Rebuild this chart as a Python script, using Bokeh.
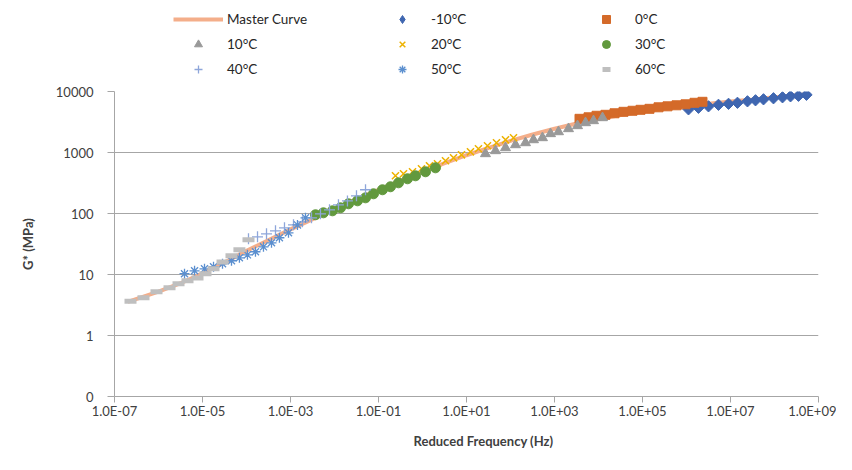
import math
from bokeh.plotting import figure
from bokeh.models import Range1d, FixedTicker, Legend, LegendItem, Label
from bokeh.layouts import column
from bokeh.embed import file_html
from bokeh.resources import INLINE

# ---------------- data ----------------
master_f = [2.0e-7, 1.0e-6, 3.2e-6, 1.0e-5, 3.2e-5, 1.0e-4, 3.2e-4, 1.0e-3, 3.2e-3, 1.0e-2,
            3.2e-2, 0.1, 0.32, 1.0, 3.2, 10, 32, 100, 320, 1.0e3, 3.2e3, 1.0e4, 3.2e4,
            1.0e5, 3.2e5, 1.0e6, 3.2e6, 1.0e7, 3.2e7, 1.0e8, 3.2e8, 6.3e8]
master_g = [3.55, 5.25, 7.2, 10.5, 15.8, 24.5, 36.7, 55, 81, 119, 172, 245, 347, 484, 668,
            902, 1189, 1549, 1972, 2455, 2985, 3548, 4121, 4677, 5248, 5821, 6310, 6839,
            7413, 8035, 8710, 9120]

m10_f = [1.11e6, 1.87e6, 3.16e6, 5.33e6, 9.02e6, 1.44e7, 2.43e7, 3.70e7, 5.62e7, 9.48e7,
         1.52e8, 2.31e8, 3.51e8, 5.33e8]
m10_g = [5105, 5408, 5715, 6053, 6281, 6531, 6902, 7178, 7447, 7745, 8035, 8337, 8511, 8831]

t0_f = [3700, 5930, 9020, 14420, 23120, 36980, 59290, 90150, 144200, 231200, 369800,
        592900, 948400, 1.52e6, 2.31e6]
t0_g = [3565, 3776, 3999, 4150, 4395, 4645, 4831, 5012, 5200, 5508, 5715, 5943, 6166,
        6531, 6776]

t10_f = [27, 45.6, 77, 130, 219, 333, 533, 811, 1233, 2080, 3333, 5070, 7700, 12330]
t10_g = [953, 1067, 1194, 1337, 1442, 1614, 1742, 2028, 2183, 2449, 2742, 3069, 3311, 3707]

t20_f = [0.243, 0.37, 0.593, 0.948, 1.44, 2.19, 3.33, 5.07, 7.7, 12.3, 18.7, 30, 48, 77, 117]
t20_g = [415, 448, 483, 541, 605, 653, 731, 818, 916, 1026, 1151, 1288, 1442, 1614, 1742]

t30_f = [3.7e-3, 5.6e-3, 9.0e-3, 1.37e-2, 2.08e-2, 3.33e-2, 5.07e-2, 7.7e-2, 0.123, 0.187,
         0.285, 0.456, 0.693, 1.17, 1.97]
t30_g = [95.3, 102.6, 110.7, 123.9, 144.2, 161.4, 180.7, 210.4, 244.9, 274.2, 318.4, 370.7,
         415, 483, 561]

t40_f = [1.11e-4, 1.78e-4, 2.85e-4, 4.56e-4, 7.3e-4, 1.17e-3, 1.87e-3, 3.0e-3, 4.8e-3,
         7.7e-3, 1.23e-2, 1.97e-2, 3.16e-2, 5.07e-2]
t40_g = [38.5, 41.5, 46.4, 52, 58.3, 65.3, 73.1, 85, 98.9, 115, 139, 161, 195, 245]

t50_f = [3.9e-6, 6.6e-6, 1.11e-5, 1.78e-5, 2.85e-5, 4.56e-5, 6.9e-5, 1.05e-4, 1.6e-4,
         2.43e-4, 3.7e-4, 5.6e-4, 9.0e-4, 1.44e-3, 2.19e-3]
t50_g = [10.3, 11.5, 12.4, 13.4, 15.0, 16.8, 18.8, 21.0, 23.6, 28.4, 33.1, 40, 48.3, 65, 85]

t60_f = [2.31e-7, 4.56e-7, 9.0e-7, 1.78e-6, 2.85e-6, 4.56e-6, 7.7e-6, 1.17e-5, 1.78e-5,
         2.85e-5, 4.56e-5, 6.9e-5, 1.11e-4]
t60_g = [3.64, 4.15, 5.2, 6.05, 7.05, 7.9, 8.8, 10.3, 12.4, 16.1, 20.3, 25.4, 37]

series_names = ["-10°C", "0°C", "10°C", "20°C", "30°C", "40°C", "50°C", "60°C"]

x_ticks = [1e-7, 1e-5, 1e-3, 1e-1, 1e1, 1e3, 1e5, 1e7, 1e9]
x_tick_labels = ["1.0E-07", "1.0E-05", "1.0E-03", "1.0E-01", "1.0E+01", "1.0E+03",
                 "1.0E+05", "1.0E+07", "1.0E+09"]
y_ticks = [0.1, 1, 10, 100, 1000, 10000]
y_tick_labels = ["0", "1", "10", "100", "1000", "10000"]

# ---------------- styles ----------------
FONT = "Lato"
GRID = "#A6A6A6"
TXT = "#404040"
MASTER = dict(line_color="#F4AE8A", line_width=4)
STYLES = [
    dict(marker="square", angle=math.pi / 4, size=8, fill_color="#3F66B0", line_color="#3F66B0"),
    dict(marker="square", size=9, fill_color="#D46A29", line_color="#D46A29"),
    dict(marker="triangle", size=10, fill_color="#999999", line_color="#999999"),
    dict(marker="x", size=10, line_color="#EDB200", line_width=1.5),
    dict(marker="circle", size=10, fill_color="#62993E", line_color="#62993E"),
    dict(marker="cross", size=11, line_color="#8EA6DA", line_width=1.3),
    dict(marker="asterisk", size=10, line_color="#5B8FCF", line_width=1.3),
    dict(marker="dash", size=12, line_color="#BFBFBF", line_width=5),
]
# legend swatch styles (the legend does not rotate markers, so use a diamond there)
LEGEND_STYLES = [dict(st) for st in STYLES]
LEGEND_STYLES[0] = dict(marker="diamond", size=12, fill_color="#3F66B0", line_color="#3F66B0")

series_data = [(m10_f, m10_g), (t0_f, t0_g), (t10_f, t10_g), (t20_f, t20_g),
               (t30_f, t30_g), (t40_f, t40_g), (t50_f, t50_g), (t60_f, t60_g)]

W = 836
LEFT, RIGHT = 114, 18

# ---------------- main chart ----------------
x_range = Range1d(1e-7, 1e9)
p = figure(width=W, height=340, x_axis_type="log", y_axis_type="log",
           x_range=x_range, y_range=Range1d(0.1, 10000),
           output_backend="svg", toolbar_location=None,
           min_border_left=LEFT, min_border_right=RIGHT, min_border_top=10, min_border_bottom=25)
p.outline_line_color = None
p.xgrid.grid_line_color = None
p.ygrid.grid_line_color = GRID
p.ygrid.grid_line_width = 1

p.xaxis.ticker = FixedTicker(ticks=x_ticks, minor_ticks=[])
p.yaxis.ticker = FixedTicker(ticks=y_ticks, minor_ticks=[])
p.xaxis.major_label_overrides = dict(zip(x_ticks, x_tick_labels))
p.yaxis.major_label_overrides = dict(zip(y_ticks, y_tick_labels))

for ax in (p.xaxis, p.yaxis):
    ax.axis_line_color = GRID
    ax.major_tick_line_color = GRID
    ax.major_tick_in = 0
    ax.major_tick_out = 7
    ax.minor_tick_line_color = None
    ax.major_label_text_font = FONT
    ax.major_label_text_font_size = "13px"
    ax.major_label_text_color = TXT
p.xaxis.major_tick_out = 6
p.xaxis.major_label_standoff = 0
p.yaxis.major_label_standoff = 14

p.yaxis.axis_label = "G* (MPa)"
p.yaxis.axis_label_text_font = FONT
p.yaxis.axis_label_text_font_style = "bold"
p.yaxis.axis_label_text_font_size = "13px"
p.yaxis.axis_label_text_color = TXT
p.yaxis.axis_label_standoff = 17

p.line(master_f, master_g, **MASTER)
for (fx, gy), st in zip(series_data, STYLES):
    p.scatter(fx, gy, **st)

# ---------------- legend strip (above) ----------------
# same series drawn against a G* range above all values, so only the legend shows
lg = figure(width=W, height=81, x_axis_type="log", y_axis_type="log",
            x_range=x_range, y_range=Range1d(1e5, 1e6),
            output_backend="svg", toolbar_location=None,
            x_axis_location=None, y_axis_location=None,
            min_border_left=LEFT, min_border_right=RIGHT, min_border_top=0, min_border_bottom=0)
lg.outline_line_color = None
lg.grid.visible = False
items = [LegendItem(label="Master Curve", renderers=[lg.line(master_f, master_g, **MASTER)])]
for name, (fx, gy), st in zip(series_names, series_data, LEGEND_STYLES):
    items.append(LegendItem(label=name, renderers=[lg.scatter(fx, gy, **st)]))
legend = Legend(items=items, ncols=3, orientation="horizontal", location=(59, 2),
                glyph_width=50, glyph_height=20, label_height=20, label_width=145,
                label_standoff=4, spacing=5, padding=0, margin=0,
                border_line_color=None, background_fill_alpha=0,
                label_text_font=FONT, label_text_font_size="13.5px", label_text_color="#262626")
lg.add_layout(legend, "center")

# ---------------- x-axis title strip (below) ----------------
tt = figure(width=W, height=33, x_axis_type="log", x_range=x_range, y_range=Range1d(0, 1),
            output_backend="svg", toolbar_location=None,
            x_axis_location=None, y_axis_location=None,
            min_border_left=LEFT, min_border_right=RIGHT, min_border_top=0, min_border_bottom=0)
tt.outline_line_color = None
tt.grid.visible = False
tt.add_layout(Label(x=24.3, y=0.42, text="Reduced Frequency (Hz)", text_align="center",
                    text_baseline="middle", text_font=FONT, text_font_style="bold",
                    text_font_size="13px", text_color=TXT))

page = column(lg, p, tt, spacing=0)
open("out.html", "w").write(file_html(page, INLINE))
